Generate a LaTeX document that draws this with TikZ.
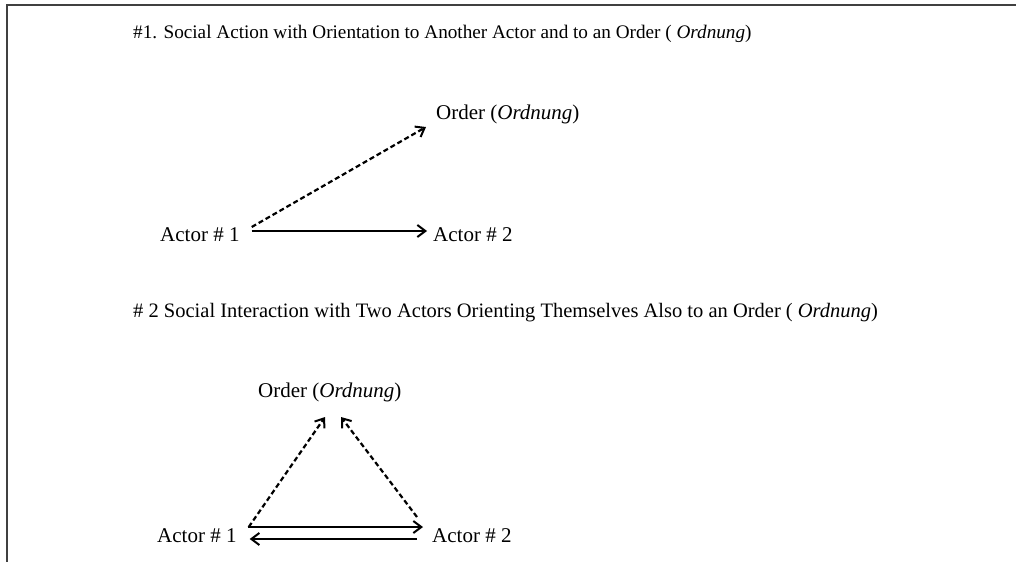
\documentclass[tikz,border=0pt]{standalone}
\usepackage{fontspec}
\setmainfont{Liberation Serif}
\usetikzlibrary{arrows.meta}
\begin{document}
\begin{tikzpicture}[x=1pt,y=-1pt,
  lbl/.style={inner sep=0pt,anchor=base west,font=\fontsize{21}{25}\selectfont},
  ttlA/.style={inner sep=0pt,anchor=base west,font=\fontsize{19.2}{23}\selectfont},
  ttlB/.style={inner sep=0pt,anchor=base west,font=\fontsize{20.5}{24}\selectfont},
  solidarrow/.style={line width=2.2pt,-{Straight Barb[length=8pt,width=12pt,line width=2pt]}},
  dasharrow/.style={line width=2.2pt,dash pattern=on 5pt off 3pt,-{Straight Barb[length=8pt,width=12pt,line width=2pt]}},
  frame/.style={draw=black!75,line width=1.5pt}]
\useasboundingbox (0,0) rectangle (1016,562);
\coordinate (ftl) at (7,5);
\coordinate (ftr) at (1016,5);
\coordinate (fbl) at (7,562);
\draw[frame] (ftr) -- (ftl) -- (fbl);
% Part 1
\node[ttlA] (t1) at (133,38) {\#1. Social Action with Orientation to Another Actor and to an Order ( \textit{Ordnung})};
\node[lbl] (o1) at (436,119) {Order (\textit{Ordnung})};
\node[lbl] (a1) at (160,241) {Actor \# 1};
\node[lbl] (b1) at (433,241) {Actor \# 2};
\draw[solidarrow] ([xshift=12pt,yshift=10pt]a1.base east) -- ([xshift=-6pt,yshift=10pt]b1.base west);
\draw[dasharrow] ([xshift=12pt,yshift=14pt]a1.base east) -- ([xshift=-10pt,yshift=-8pt]o1.base west);
% Part 2
\node[ttlB] (t2) at (133,317) {\# 2 Social Interaction with Two Actors Orienting Themselves Also to an Order ( \textit{Ordnung})};
\node[lbl] (o2) at (258,397) {Order (\textit{Ordnung})};
\node[lbl] (a2) at (157,542) {Actor \# 1};
\node[lbl] (b2) at (432,542) {Actor \# 2};
\draw[solidarrow] ([xshift=11pt,yshift=15pt]a2.base east) -- ([xshift=-9pt,yshift=15pt]b2.base west);
\draw[solidarrow] ([xshift=-15pt,yshift=3pt]b2.base west) -- ([xshift=13pt,yshift=3pt]a2.base east);
\draw[dasharrow] ([xshift=12pt,yshift=15pt]a2.base east) -- ([xshift=67pt,yshift=-20pt]o2.base west);
\draw[dasharrow] ([xshift=-15pt,yshift=25pt]b2.base west) -- ([xshift=83pt,yshift=-20pt]o2.base west);
\end{tikzpicture}
\end{document}
